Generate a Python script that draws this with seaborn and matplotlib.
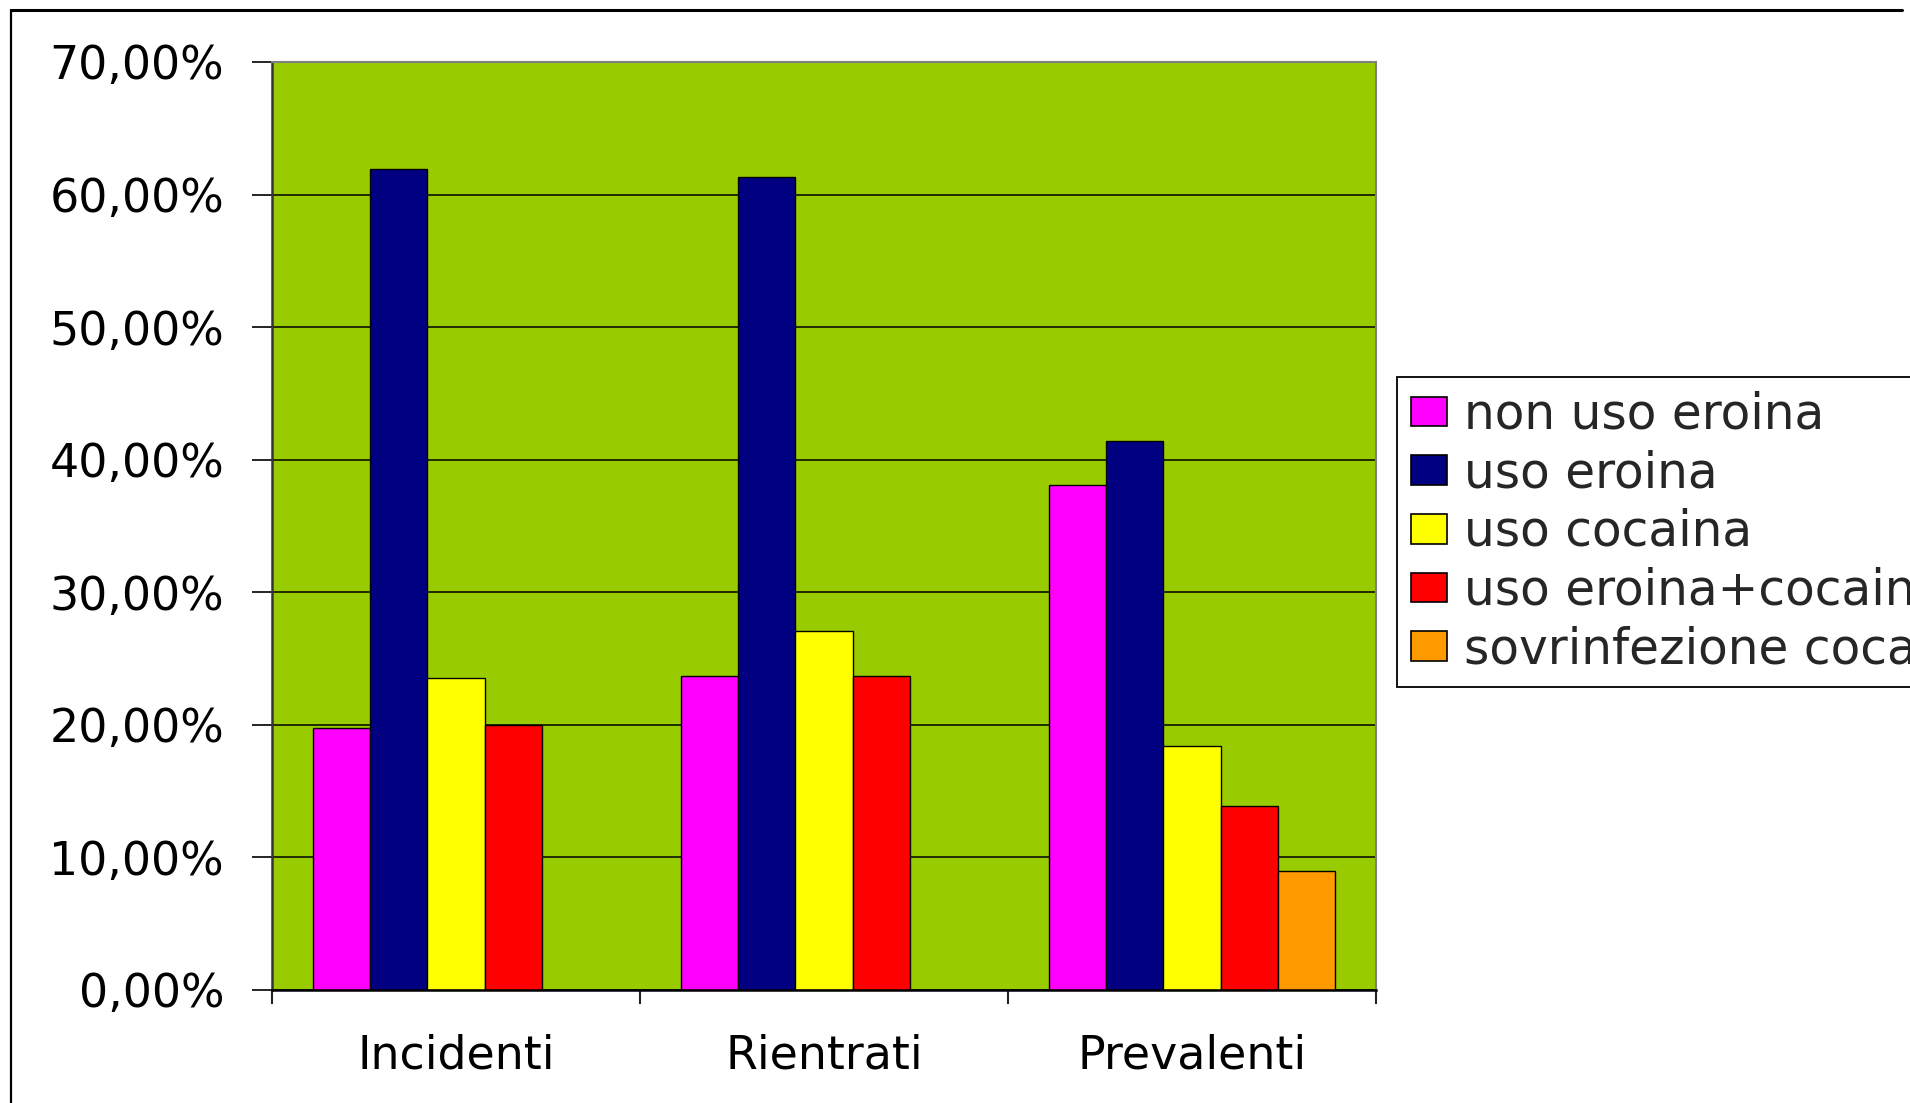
import numpy as np
import pandas as pd
import matplotlib
matplotlib.use("Agg")
import matplotlib.pyplot as plt
from matplotlib.patches import Patch
from matplotlib.lines import Line2D
from matplotlib.ticker import FuncFormatter, FixedLocator
import seaborn as sns

categories = ["Incidenti", "Rientrati", "Prevalenti"]
series = ["non uso eroina", "uso eroina", "uso cocaina", "uso eroina+cocaina", "sovrinfezione cocaina"]
non_uso_eroina = [19.8, 23.7, 38.1]
uso_eroina = [61.9, 61.3, 41.4]
uso_cocaina = [23.5, 27.1, 18.4]
uso_eroina_cocaina = [20.0, 23.7, 13.9]
sovrinfezione_cocaina = [np.nan, np.nan, 9.0]
yticks = [0, 10, 20, 30, 40, 50, 60, 70]

colors = ["#FF00FF", "#000080", "#FFFF00", "#FF0000", "#FF9900"]
values = [non_uso_eroina, uso_eroina, uso_cocaina, uso_eroina_cocaina, sovrinfezione_cocaina]
rows = []
for s, vals in zip(series, values):
    for c, v in zip(categories, vals):
        rows.append({"categoria": c, "serie": s, "valore": v})
df = pd.DataFrame(rows)

sns.set_theme(style="white")
plt.rcParams["font.family"] = ["DejaVu Sans"]

W, H = 1910, 1103
fig = plt.figure(figsize=(W / 100, H / 100), dpi=100)
fig.patch.set_facecolor("white")
ax = fig.add_axes([272 / W, 1 - 990 / H, (1376 - 272) / W, (990 - 62) / H])
ax.set_facecolor("#99CC00")

palette = dict(zip(series, colors))
sns.barplot(data=df, x="categoria", y="valore", hue="serie", order=categories,
            hue_order=series, palette=palette, saturation=1, width=0.775,
            errorbar=None, edgecolor="black", linewidth=1.0, ax=ax, legend=False)

ax.set_xlim(-0.5, 2.5)
ax.set_ylim(0, 70)
ax.set_yticks(yticks)
ax.yaxis.set_major_formatter(FuncFormatter(lambda v, p: f"{v:.2f}".replace(".", ",") + "%"))
ax.set_xlabel("")
ax.set_ylabel("")
ax.set_xticks(range(len(categories)))
ax.set_xticklabels(categories)
ax.xaxis.set_minor_locator(FixedLocator([-0.5, 0.5, 1.5, 2.5]))
ax.tick_params(axis="x", which="major", length=0, pad=31, labelsize=33, colors="black")
ax.tick_params(axis="x", which="minor", length=10, width=1.5, direction="out", color="#222222", bottom=True)
ax.tick_params(axis="y", which="major", length=14.5, width=1.2, direction="out", pad=20,
               labelsize=33, colors="black", left=True)

ax.yaxis.grid(True, color="black", linewidth=1.1)
ax.xaxis.grid(False)
ax.set_axisbelow(True)

ax.spines["left"].set_color("#333333")
ax.spines["left"].set_linewidth(1.8)
ax.spines["bottom"].set_color("black")
ax.spines["bottom"].set_linewidth(1.8)
ax.spines["top"].set_color("#808080")
ax.spines["top"].set_linewidth(1.5)
ax.spines["right"].set_color("#808080")
ax.spines["right"].set_linewidth(1.5)

handles = [Patch(facecolor=c, edgecolor="black", linewidth=1.2) for c in colors]
leg = fig.legend(handles, series, loc="upper left",
                 bbox_to_anchor=(1397 / W, 1 - 377 / H), bbox_transform=fig.transFigure,
                 fontsize=35, frameon=True, fancybox=False, shadow=False, framealpha=1,
                 edgecolor="black", borderaxespad=0, borderpad=0.28, labelspacing=0.22,
                 handlelength=0.74, handleheight=0.56, handletextpad=0.35)
leg.get_frame().set_linewidth(1.3)

fig.add_artist(Line2D([11 / W, 11 / W], [0, 1 - 10 / H], color="black", linewidth=1.6,
                      transform=fig.transFigure))
fig.add_artist(Line2D([11 / W, 1902 / W], [1 - 10 / H, 1 - 10 / H], color="black", linewidth=2.2,
                      transform=fig.transFigure))

fig.savefig("out.png", dpi=100)
